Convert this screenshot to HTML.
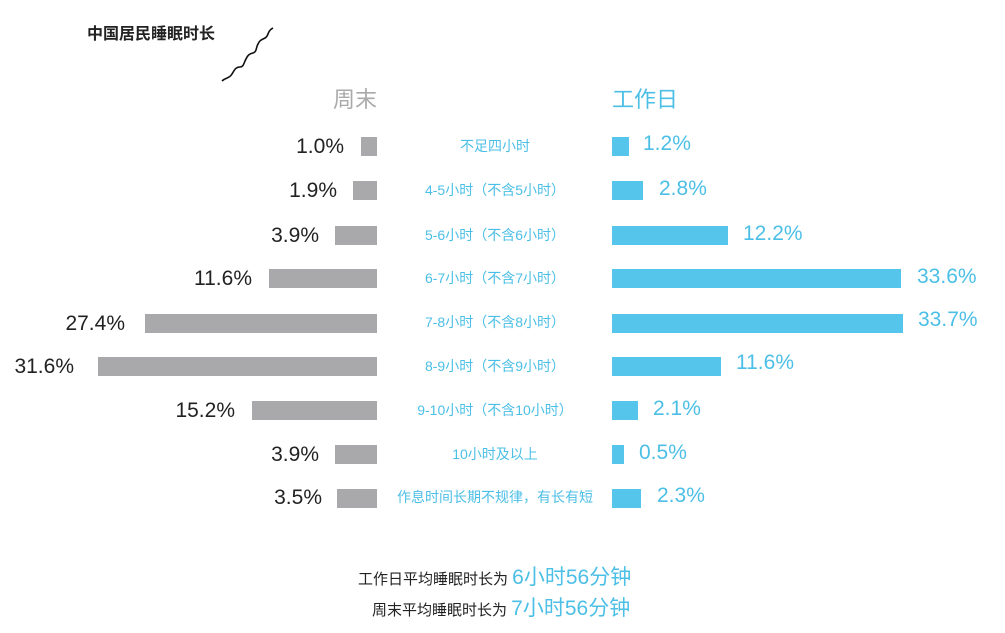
<!DOCTYPE html>
<html><head><meta charset="utf-8"><style>
body{margin:0;width:1005px;height:633px;background:#fff;position:relative;overflow:hidden;font-family:"Liberation Sans","Noto Sans CJK SC",sans-serif}
div{position:absolute}
.b{height:19px}
.g{background:#a9a9ac;right:628px}
.u{background:#55c5ec;left:612px}
.lv{font-size:21px;color:#222;text-align:right;width:200px;line-height:24px}
.rv{font-size:21px;color:#4cbfe6;line-height:24px}
.c{font-size:14px;color:#4cbfe6;width:240px;left:375px;text-align:center;line-height:20px}
</style></head><body>
<div style="left:87px;top:20px;font-size:16px;font-weight:bold;color:#222">中国居民睡眠时长</div>
<svg style="position:absolute;left:220px;top:25px" width="55" height="60"><path d="M2,56 C6,52 9,54 12,49 C15,44 16,42 20,42 C24,42 24,37 26,34 C28,30 29,29 33,28 C37,27 36,22 38,19 C40,15 41,15 45,13 C49,11 47,6 53,3" fill="none" stroke="#111" stroke-width="1.6"/></svg>
<div style="left:333px;top:82px;font-size:22px;color:#aaa">周末</div>
<div style="left:612px;top:82px;font-size:22px;color:#4cbfe6">工作日</div>

<div class="b g" style="top:137px;width:16px"></div><div class="lv" style="left:144px;top:135px">1.0%</div><div class="c" style="top:136px">不足四小时</div><div class="b u" style="top:137px;width:17px"></div><div class="rv" style="left:643px;top:132px">1.2%</div>
<div class="b g" style="top:181px;width:24px"></div><div class="lv" style="left:137px;top:179px">1.9%</div><div class="c" style="top:180px">4-5小时（不含5小时）</div><div class="b u" style="top:181px;width:31px"></div><div class="rv" style="left:659px;top:177px">2.8%</div>
<div class="b g" style="top:226px;width:42px"></div><div class="lv" style="left:119px;top:224px">3.9%</div><div class="c" style="top:225px">5-6小时（不含6小时）</div><div class="b u" style="top:226px;width:116px"></div><div class="rv" style="left:743px;top:222px">12.2%</div>
<div class="b g" style="top:269px;width:108px"></div><div class="lv" style="left:52px;top:267px">11.6%</div><div class="c" style="top:268px">6-7小时（不含7小时）</div><div class="b u" style="top:269px;width:289px"></div><div class="rv" style="left:917px;top:265px">33.6%</div>
<div class="b g" style="top:314px;width:232px"></div><div class="lv" style="left:-75px;top:312px">27.4%</div><div class="c" style="top:312px">7-8小时（不含8小时）</div><div class="b u" style="top:314px;width:291px"></div><div class="rv" style="left:918px;top:308px">33.7%</div>
<div class="b g" style="top:357px;width:279px"></div><div class="lv" style="left:-126px;top:355px">31.6%</div><div class="c" style="top:356px">8-9小时（不含9小时）</div><div class="b u" style="top:357px;width:109px"></div><div class="rv" style="left:736px;top:351px">11.6%</div>
<div class="b g" style="top:401px;width:125px"></div><div class="lv" style="left:35px;top:399px">15.2%</div><div class="c" style="top:400px">9-10小时（不含10小时）</div><div class="b u" style="top:401px;width:26px"></div><div class="rv" style="left:653px;top:397px">2.1%</div>
<div class="b g" style="top:445px;width:42px"></div><div class="lv" style="left:119px;top:443px">3.9%</div><div class="c" style="top:444px">10小时及以上</div><div class="b u" style="top:445px;width:12px"></div><div class="rv" style="left:639px;top:441px">0.5%</div>
<div class="b g" style="top:489px;width:40px"></div><div class="lv" style="left:122px;top:486px">3.5%</div><div class="c" style="top:487px">作息时间长期不规律，有长有短</div><div class="b u" style="top:489px;width:29px"></div><div class="rv" style="left:657px;top:484px">2.3%</div>

<div style="left:358px;top:566px;font-size:15px;color:#222;line-height:24px">工作日平均睡眠时长为 <span style="font-size:21px;color:#4cbfe6">6小时56分钟</span></div>
<div style="left:372px;top:597px;font-size:15px;color:#222;line-height:24px">周末平均睡眠时长为 <span style="font-size:21px;color:#4cbfe6">7小时56分钟</span></div>
</body></html>
